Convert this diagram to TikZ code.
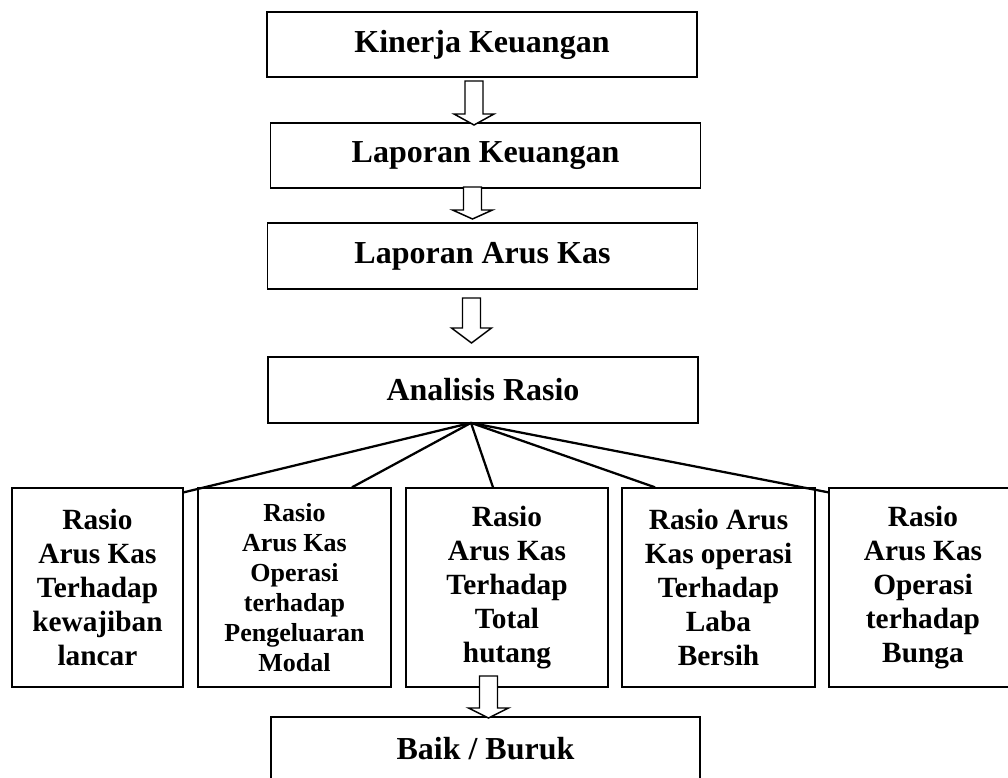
\documentclass[tikz,border=0pt]{standalone}
\usepackage{fontspec}
\setmainfont{Liberation Serif}
\usetikzlibrary{calc}

% hollow block arrow: [head length] start, tip
\newcommand{\hollowarrow}[3][11]{%
  \draw[hollow] ($(#2)+(-9,0)$) -- ($(#3)+(-9,-#1)$) -- ($(#3)+(-20,-#1)$) -- (#3)
    -- ($(#3)+(20,-#1)$) -- ($(#3)+(9,-#1)$) -- ($(#2)+(9,0)$) -- cycle;}

\begin{document}
\begin{tikzpicture}[
    x=0.75pt, y=-0.75pt,
    topbox/.style={draw, line width=1.3pt, minimum width=322.5pt, minimum height=49pt, inner sep=0pt, align=center, font=\fontsize{24}{28}\selectfont\bfseries},
    ratiobox/.style={draw, line width=1.3pt, minimum height=149pt, inner sep=0pt, align=center, font=\fontsize{22}{25.5}\selectfont\bfseries},
    fan/.style={line width=1.7pt},
    hollow/.style={draw, fill=white, line width=1.1pt, line join=miter}
]
\useasboundingbox (0,0) rectangle (1008,778);
\clip (0,0) rectangle (1008,778);

% main chain
\node[topbox] (kinerja) at (482,44.5) {Kinerja Keuangan};
\node[topbox] (lapkeu) at (485.5,155.5) {Laporan Keuangan};
\node[topbox] (lapkas) at (482.5,256) {Laporan Arus Kas};
\node[topbox, minimum height=49.5pt] (analisis) at (483,390) {Analisis Rasio};

% ratios
\node[ratiobox, minimum width=128.25pt] (r1) at (97.5,587.5) {Rasio\\Arus Kas\\Terhadap\\kewajiban\\lancar};
\node[ratiobox, minimum width=144.75pt, font=\fontsize{19.5}{22.5}\selectfont\bfseries] (r2) at (294.5,587.5) {Rasio\\Arus Kas\\Operasi\\terhadap\\Pengeluaran\\Modal};
\node[ratiobox, minimum width=151.5pt] (r3) at (507,587.5) {Rasio\\Arus Kas\\Terhadap\\Total\\hutang};
\node[ratiobox, minimum width=144.75pt] (r4) at (718.5,587.5) {Rasio Arus\\Kas operasi\\Terhadap\\Laba\\Bersih};
\node[ratiobox, minimum width=141pt] (r5) at (923,587.5) {Rasio\\Arus Kas\\Operasi\\terhadap\\Bunga};

\node[topbox, minimum width=321.75pt, minimum height=47.25pt] (hasil) at (485.5,748.5) {Baik / Buruk};

% fan out of Analisis Rasio
\coordinate (hub) at ($(analisis.south)+(-12,-1)$);
\draw[fan] (hub) -- ($(r1.north east)+(0,5)$);
\draw[fan] (hub) -- ($(r2.north)+(57.5,0)$);
\draw[fan] (hub) -- ($(r3.north)+(-14,0)$);
\draw[fan] (hub) -- ($(r4.north)+(-63.5,0)$);
\draw[fan] (hub) -- ($(r5.north west)+(0,5)$);

% block arrows
\coordinate (a1s) at (474,81);   \coordinate (a1e) at (474,125);
\coordinate (a2s) at (472.5,187); \coordinate (a2e) at (472.5,219);
\coordinate (a3s) at (471.5,298); \coordinate (a3e) at (471.5,343);
\coordinate (a4s) at (488.5,676); \coordinate (a4e) at (488.5,718);
\hollowarrow{a1s}{a1e}
\hollowarrow[9]{a2s}{a2e}
\hollowarrow[15]{a3s}{a3e}
\hollowarrow[10]{a4s}{a4e}
\end{tikzpicture}
\end{document}
